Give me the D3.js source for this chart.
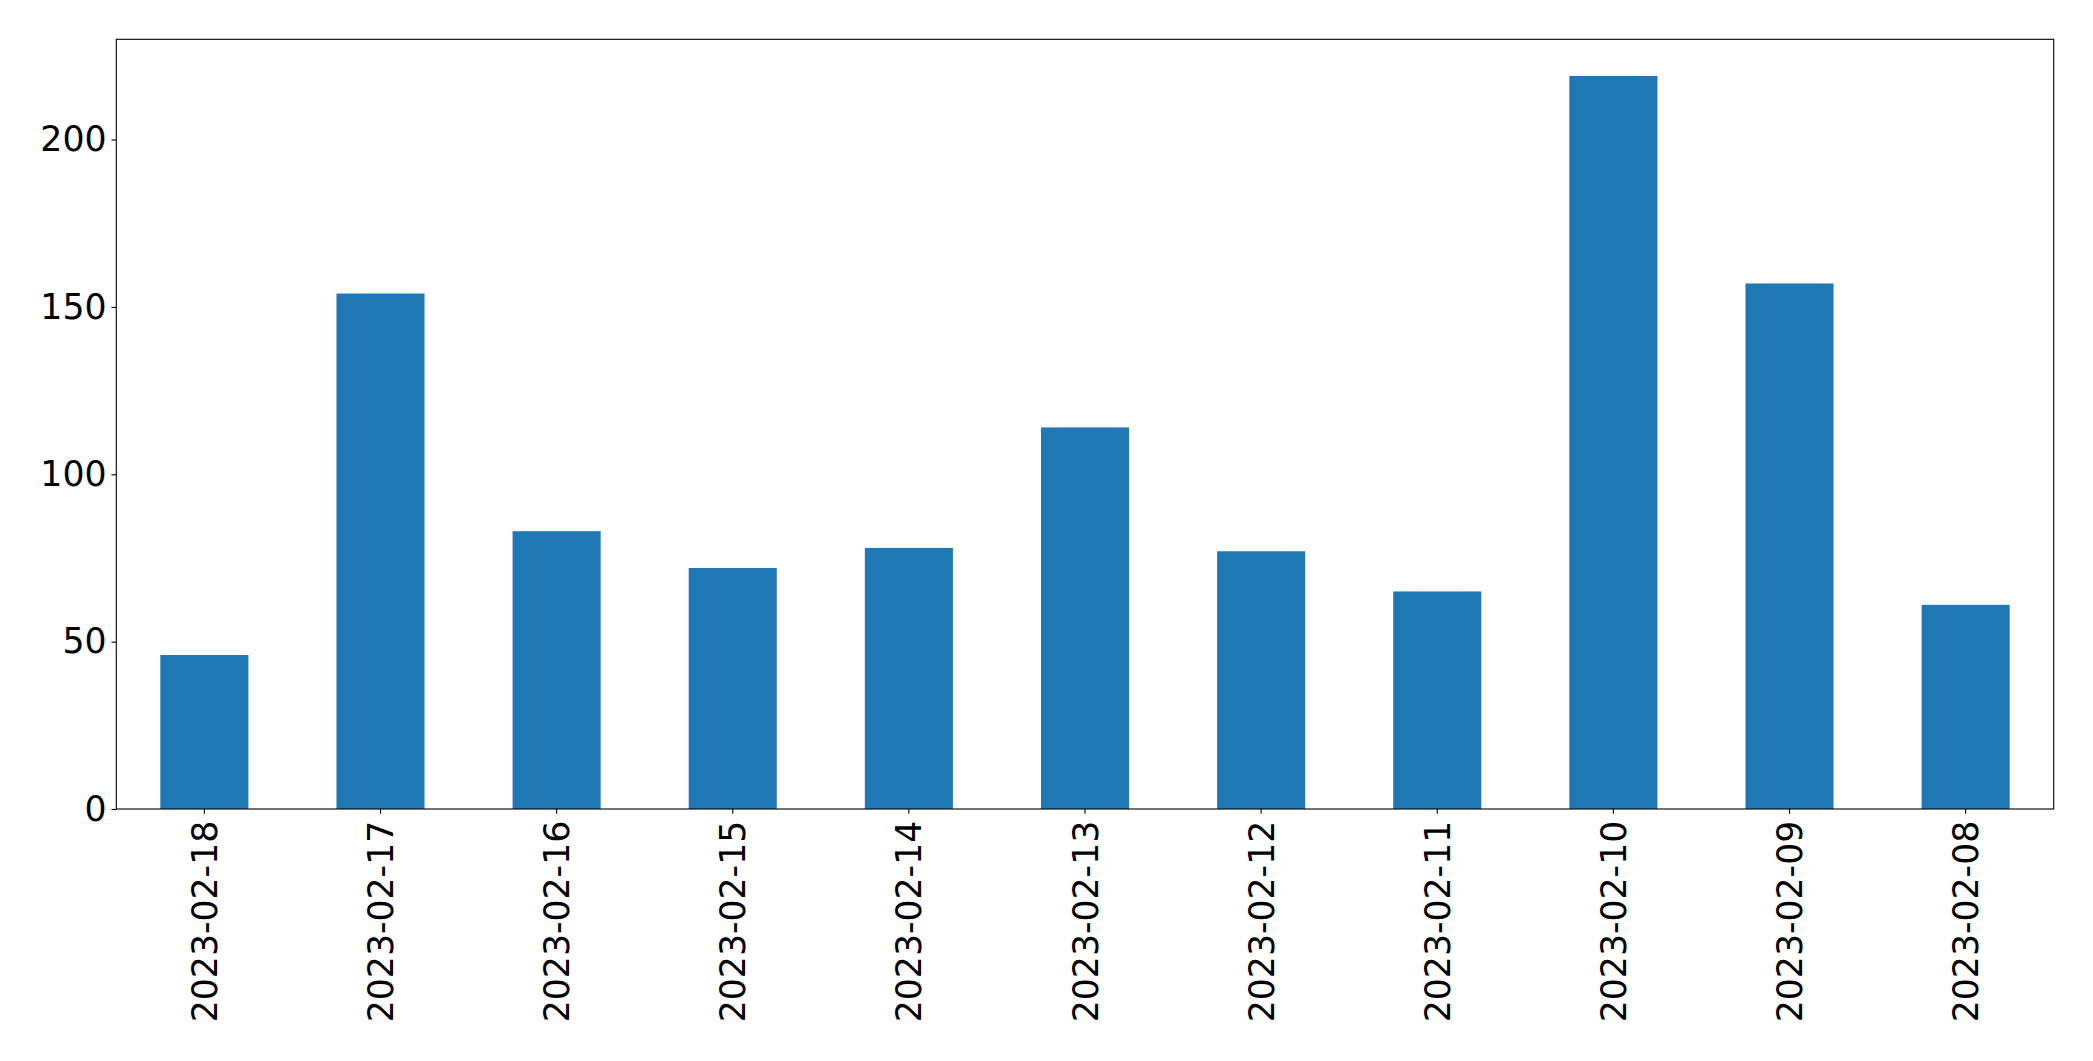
<!DOCTYPE html>
<html>
<head>
<meta charset="utf-8">
<script src="https://cdn.jsdelivr.net/npm/d3@7"></script>
<style>
  html, body { margin: 0; padding: 0; background: #fff; }
  svg { display: block; }
</style>
</head>
<body>
<script>
const categories = ["2023-02-18","2023-02-17","2023-02-16","2023-02-15","2023-02-14","2023-02-13","2023-02-12","2023-02-11","2023-02-10","2023-02-09","2023-02-08"];
const values = [46, 154, 83, 72, 78, 114, 77, 65, 219, 157, 61];
const yTicks = [0, 50, 100, 150, 200];

const W = 2093, H = 1061;
const margin = {left: 116.3, right: W - 2053.7, top: 39.3, bottom: H - 809};
const iw = W - margin.left - margin.right;
const ih = H - margin.top - margin.bottom;
const fs = 34.7;
const tickLen = 4.86, pad = 4.86;

const svg = d3.select("body").append("svg").attr("width", W).attr("height", H)
  .style("font-family", "'DejaVu Sans', sans-serif");

const g = svg.append("g").attr("transform", `translate(${margin.left},${margin.top})`);

const x = d3.scaleBand().domain(categories).range([0, iw]).paddingInner(0.5).paddingOuter(0.25);
const y = d3.scaleLinear().domain([0, d3.max(values) * 1.05]).range([ih, 0]);

g.selectAll("rect.bar").data(values).enter().append("rect")
  .attr("class", "bar")
  .attr("x", (d, i) => x(categories[i]))
  .attr("width", x.bandwidth())
  .attr("y", d => y(d))
  .attr("height", d => y(0) - y(d))
  .attr("fill", "#1f77b4");

// Y axis
const yAxis = g.append("g").call(d3.axisLeft(y).tickValues(yTicks).tickSize(tickLen).tickPadding(pad).tickFormat(d3.format("d")));
yAxis.select(".domain").remove();
yAxis.selectAll("line").attr("stroke", "#000").attr("stroke-width", 1.1);
yAxis.selectAll("text").attr("font-size", fs).attr("fill", "#000").attr("font-family", "'DejaVu Sans', sans-serif");

// X axis
const xAxis = g.append("g").attr("transform", `translate(0,${ih})`)
  .call(d3.axisBottom(x).tickSize(tickLen).tickPadding(pad));
xAxis.select(".domain").remove();
xAxis.selectAll("line").attr("stroke", "#000").attr("stroke-width", 1.1);
xAxis.selectAll("text")
  .attr("font-size", fs).attr("fill", "#000").attr("font-family", "'DejaVu Sans', sans-serif")
  .attr("text-anchor", "end")
  .attr("x", 0).attr("y", 0)
  .attr("dy", "0.36em")
  .attr("transform", `translate(0,${tickLen + pad + 2}) rotate(-90)`);

// Frame
g.append("rect").attr("x", 0).attr("y", 0).attr("width", iw).attr("height", ih)
  .attr("fill", "none").attr("stroke", "#000").attr("stroke-width", 1.1);
</script>
</body>
</html>
